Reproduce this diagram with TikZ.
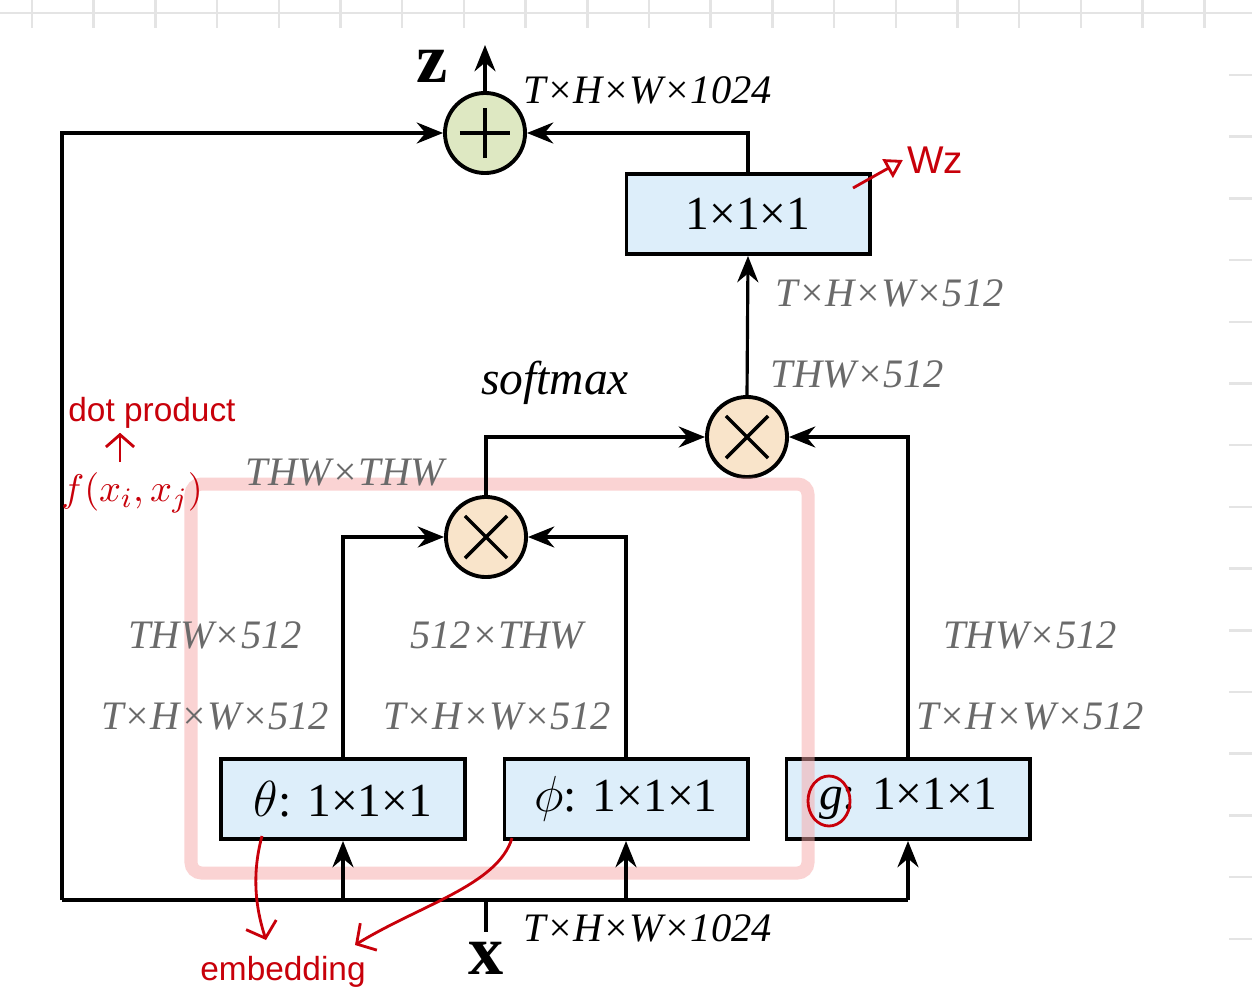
\documentclass[tikz,border=0pt]{standalone}
\usepackage{fontspec}
\setmainfont{Liberation Serif}
\newfontfamily\notefont{Liberation Sans}
\usetikzlibrary{arrows.meta}
\definecolor{boxblue}{HTML}{DDEEFA}
\definecolor{sumgreen}{HTML}{DEE8C2}
\definecolor{prodpeach}{HTML}{F9E4CA}
\definecolor{dimgray}{HTML}{6A6A6A}
\definecolor{penred}{HTML}{C8000A}
\definecolor{marker}{HTML}{F7A8A8}
\definecolor{gridgray}{HTML}{E4E4E4}

\begin{document}
\begin{tikzpicture}[x=0.01cm,y=-0.01cm,
  opbox/.style={draw,line width=1.1pt,fill=boxblue,minimum width=2.43cm,
                minimum height=0.8cm,inner sep=0pt,font=\fontsize{13.5}{16}\selectfont},
  sumnode/.style={circle,draw,line width=1.1pt,fill=sumgreen,minimum size=0.8cm,inner sep=0pt,
                  path picture={\draw[line width=1pt]
                    ([xshift=-0.25cm]path picture bounding box.center) -- ([xshift=0.25cm]path picture bounding box.center)
                    ([yshift=-0.25cm]path picture bounding box.center) -- ([yshift=0.25cm]path picture bounding box.center);}},
  prodnode/.style={circle,draw,line width=1.1pt,fill=prodpeach,minimum size=0.8cm,inner sep=0pt,
                   path picture={\draw[line width=1pt]
                    ([shift={(-0.21cm,-0.21cm)}]path picture bounding box.center) -- ([shift={(0.21cm,0.21cm)}]path picture bounding box.center)
                    ([shift={(-0.21cm,0.21cm)}]path picture bounding box.center) -- ([shift={(0.21cm,-0.21cm)}]path picture bounding box.center);}},
  dimtext/.style={font=\fontsize{11.5}{14}\selectfont\itshape,text=dimgray,inner sep=0pt},
  flow/.style={line width=0.9pt,-{Stealth[length=7.5pt,width=6pt,inset=2.5pt]}},
  note/.style={text=penred,font=\notefont\fontsize{9.5}{12}\selectfont,inner sep=1pt},
  redpen/.style={draw=penred,line width=0.8pt}]

  \useasboundingbox (0,0) rectangle (1252,1000);
  \fill[white] (0,0) rectangle (1252,1000);

  % note-app grid
  \begin{scope}[gridgray,line width=0.7pt]
    \draw (0,13) -- (1252,13);
    \foreach \i in {0,...,19} \draw (32+61.7*\i,0) -- (32+61.7*\i,28);
    \foreach \i in {0,...,14} \draw (1229,75+61.7*\i) -- (1252,75+61.7*\i);
  \end{scope}

  % operators
  \node[sumnode]  (plus) at (485,133) {};
  \node[prodnode] (mul2) at (747,437) {};
  \node[prodnode] (mul1) at (486,537) {};

  % 1x1x1 convolutions
  \node[opbox] (wz)    at (748,214) {1×1×1};
  \node[opbox] (theta) at (343,799) {$\theta$: 1×1×1};
  \node[opbox] (phi)   at (626,799) {$\phi$: 1×1×1};
  \node[opbox] (g)     at (908,799) {\textit{g}: 1×1×1};

  % highlight
  \draw[marker,opacity=0.5,line width=0.13cm,rounded corners=3pt] (191,484) rectangle (808,873);

  \coordinate (xl) at (62,900);
  \coordinate (xr) at (908,900);
  \coordinate (xs) at (486,900);
  \coordinate (ztip) at (485,45);

  % connectors
  \draw[line width=0.9pt] (xl) -- (xr);
  \draw[flow] (xl) |- (plus.west);
  \draw[flow] (wz.north) |- (plus.east);
  \draw[flow] (plus.north) -- (ztip);
  \draw[flow] (mul2.north) -- (wz.south);
  \draw[flow] (mul1.north) |- (mul2.west);
  \draw[flow] (g.north) |- (mul2.east);
  \draw[flow] (theta.north) |- (mul1.west);
  \draw[flow] (phi.north) |- (mul1.east);
  \draw[flow] (theta.south |- xl) -- (theta.south);
  \draw[flow] (phi.south |- xl) -- (phi.south);
  \draw[flow] (xr) -- (g.south);
  \node[font=\bfseries\fontsize{20}{22}\selectfont] (xlab) at (486,958) {x};
  \draw[line width=0.9pt] (xs) -- ++(0,32);
  \node[font=\bfseries\fontsize{20}{22}\selectfont] (zlab) at (432,66) {z};

  % sizes
  \node[dimtext,text=black,anchor=west] (dztop) at (523,90) {T×H×W×1024};
  \node[dimtext,anchor=west] (dwz) at (775,293) {T×H×W×512};
  \node[dimtext,text=black,font=\fontsize{13.5}{15}\selectfont\itshape] (soft) at (555,383) {softmax};
  \node[dimtext,anchor=west] (dy) at (770,374) {THW×512};
  \node[dimtext] (dattn) at (345,473) {THW×THW};
  \node[dimtext] (dth) at (215,635) {THW×512};
  \node[dimtext] (dph) at (497,635) {512×THW};
  \node[dimtext] (dg) at (1030,635) {THW×512};
  \node[dimtext] (dth2) at (215,716) {T×H×W×512};
  \node[dimtext] (dph2) at (497,716) {T×H×W×512};
  \node[dimtext] (dg2) at (1030,716) {T×H×W×512};
  \node[dimtext,text=black,anchor=west] (dxin) at (523,928) {T×H×W×1024};

  % red notes
  \node[note] (dotnote) at (152,413) {dot product};
  \node[note,font=\fontsize{11}{13}\selectfont] (fnote) at (132,493) {$f(x_i,x_j)$};
  \coordinate (fup) at (120,462);
  \draw[redpen,-{Straight Barb[length=3.5pt,width=8pt]}] (fup) -- (dotnote.south -| fup);
  \node[note,font=\notefont\fontsize{11}{13}\selectfont] (wznote) at (935,160) {Wz};
  \coordinate (wzfoot) at (853,188);
  \draw[redpen,-{Triangle[open,length=5pt,width=6pt]}] (wzfoot) -- (wznote.west);
  \draw[redpen] (829,801) ellipse [x radius=0.21cm,y radius=0.25cm];
  \node[note] (embnote) at (283,972) {embedding};
  \coordinate (thfoot) at (262,836);
  \coordinate (phfoot) at (512,838);
  \draw[redpen,-{Straight Barb[length=4pt,width=9pt]}] (thfoot) .. controls (250,880) and (258,915) .. (266,940);
  \draw[redpen,-{Straight Barb[length=4pt,width=9pt]}] (phfoot) .. controls (498,885) and (420,905) .. (355,945);
\end{tikzpicture}
\end{document}
